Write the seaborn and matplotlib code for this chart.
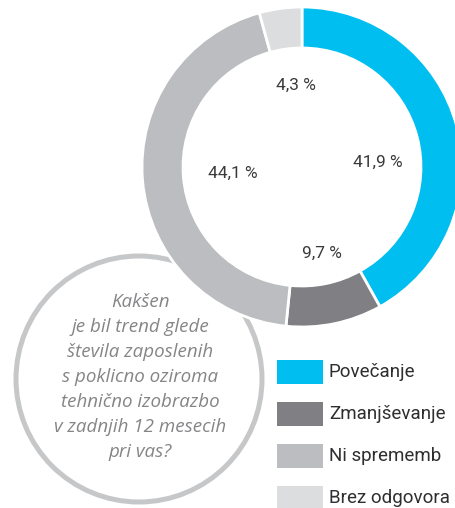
import matplotlib.pyplot as plt
import seaborn as sns

# data
categories = ["Povečanje", "Zmanjševanje", "Ni sprememb", "Brez odgovora"]
shares = [41.9, 9.7, 44.1, 4.3]
pct_labels = ["41,9 %", "9,7 %", "44,1 %", "4,3 %"]
question = ("Kakšen\nje bil trend glede\nštevila zaposlenih\ns poklicno oziroma\n"
            "tehnično izobrazbo\nv zadnjih 12 mesecih\npri vas?")

colors = ["#00BEF0", "#808084", "#BCBDC0", "#DCDDDF"]

sns.set_theme(style="white")
narrow = ["Roboto", "DejaVu Sans"]

W, H = 456, 508
fig = plt.figure(figsize=(W / 100, H / 100), dpi=100)
ax = fig.add_axes([0, 0, 1, 1])

# question circle (drawn first, donut sits on top)
ax.add_patch(plt.Circle((139, H - 379), 123, fill=False, ec="#C6C7C9", lw=3.6, zorder=1))
ax.text(140, H - 377, question, ha="center", va="center", fontsize=13.5, style="italic",
        family=["Open Sans", "DejaVu Sans"], color="#858588", linespacing=1.5, zorder=2)

# donut
cx, cy, R = 302, H - 167, 160
wedges, _ = ax.pie(shares, colors=colors, startangle=90, counterclock=False,
                   center=(cx, cy), radius=R, frame=True,
                   wedgeprops=dict(width=41, edgecolor="white", linewidth=2))
for w in wedges:
    w.set_zorder(3)

label_pos = [(378, 162), (322, 253), (233, 173), (296, 85)]
for (x, y), t in zip(label_pos, pct_labels):
    ax.text(x, H - y, t, ha="center", va="center", fontsize=12.5, family=narrow,
            color="#3A3A3C", zorder=4)

# legend
for i, (c, name) in enumerate(zip(colors, categories)):
    top = 360 + i * 42
    ax.add_patch(plt.Rectangle((277, H - top - 24), 46, 24, color=c, lw=0, zorder=3))
    ax.text(329, H - top - 12, name, ha="left", va="center", fontsize=13.5,
            family=narrow, color="#2E2E30", zorder=4)

ax.set_xlim(0, W)
ax.set_ylim(0, H)
ax.set_aspect("equal")
ax.axis("off")

fig.savefig("out.png", dpi=100)
